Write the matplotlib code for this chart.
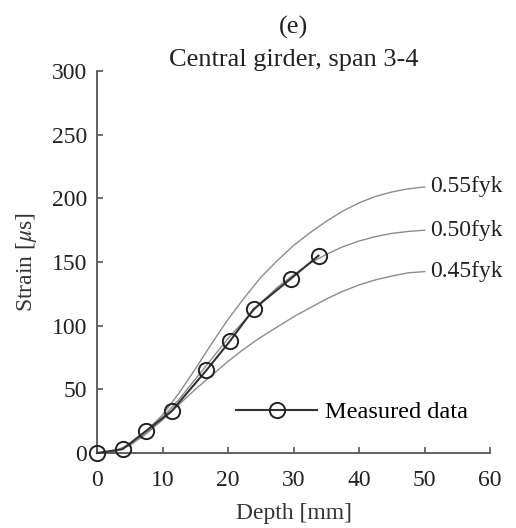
import matplotlib
matplotlib.use("Agg")
import matplotlib.pyplot as plt

plt.rcParams["font.family"] = ["Liberation Serif", "DejaVu Serif"]
plt.rcParams["mathtext.fontset"] = "stix"

# model curves (depth in mm, strain in microstrain)
depth_model = [0, 2.5, 5, 7.5, 10, 12.5, 15, 17.5, 20, 22.5, 25, 27.5, 30,
               32.5, 35, 37.5, 40, 42.5, 45, 47.5, 50]
strain_055 = [0, 1, 7, 17, 30, 47, 66, 86, 105, 122, 138, 151, 163,
              173, 182, 190, 196.5, 201.5, 205, 207.5, 209]
strain_050 = [0, 1, 6, 16, 28, 42, 58, 74, 90, 104, 118, 130, 140,
              149, 156, 162, 166.5, 170, 172.5, 174, 175]
strain_045 = [0, 1, 6, 15, 26, 38, 50, 61, 72, 82, 91, 99, 107,
              114, 121, 127, 132, 136, 139, 141.5, 142.5]
model_labels = ["0.55fyk", "0.50fyk", "0.45fyk"]

# measured data
depth_meas = [0, 3.9, 7.4, 11.4, 16.7, 20.3, 23.9, 29.6, 33.8]
strain_meas = [0, 3, 17, 33, 65, 88, 113, 137, 155]

FS = 17

fig = plt.figure(figsize=(5.16, 5.28), dpi=100)
ax = fig.add_axes([0.188, 0.142, 0.762, 0.7235])

for ys, lab in zip([strain_055, strain_050, strain_045], model_labels):
    ax.plot(depth_model, ys, color="#8c8c8c", lw=1.0)
    ax.text(depth_model[-1] + 0.9, ys[-1], lab, fontsize=FS,
            va="center", ha="left", color="#222222")

ax.plot(depth_meas, strain_meas, color="#333333", lw=1.5, marker="o",
        markersize=11, markerfacecolor="none", markeredgecolor="#222222",
        markeredgewidth=1.4, label="Measured data", clip_on=False, zorder=5)

ax.set_xlim(0, 60)
ax.set_ylim(0, 300)
ax.set_xticks(range(0, 61, 10))
ax.set_yticks(range(0, 301, 50))
for s in ("top", "right"):
    ax.spines[s].set_visible(False)
for s in ("left", "bottom"):
    ax.spines[s].set_color("#555555")
    ax.spines[s].set_linewidth(1.3)
ax.tick_params(direction="in", length=4, width=1.2, color="#555555",
               labelsize=FS, labelcolor="#222222")
ax.tick_params(axis="x", pad=12)
ax.tick_params(axis="y", pad=7)

ax.set_xlabel("Depth [mm]", fontsize=FS, color="#333333", labelpad=9)
ax.set_ylabel(r"Strain [$\mu$s]", fontsize=FS, color="#333333", labelpad=9)
ax.set_title("(e)\nCentral girder, span 3-4", fontsize=19,
             color="#222222", pad=2, linespacing=1.6)

ax.legend(loc="center left", bbox_to_anchor=(0.33, 0.107), frameon=False,
          fontsize=17.5, handlelength=3.3, handletextpad=0.33,
          borderaxespad=0)

fig.savefig("out.png", dpi=100)
